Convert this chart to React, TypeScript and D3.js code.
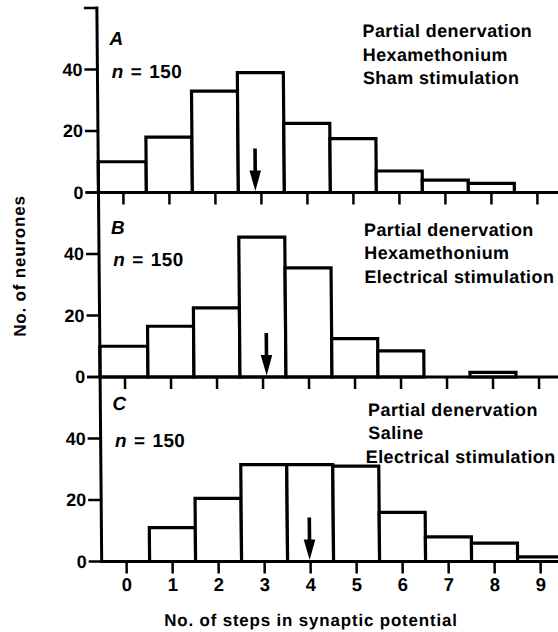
import React from 'react';
import * as d3 from 'd3';

// ---- data ----
const steps = [0, 1, 2, 3, 4, 5, 6, 7, 8, 9];
const countsA = [10, 18, 33, 39, 22.5, 17.5, 7, 4, 3, 0];
const countsB = [10, 16.5, 22.5, 45.5, 35.5, 12.5, 8.5, 0, 1.5, 0];
const countsC = [0, 11, 20.5, 31.5, 31.5, 31, 16, 8, 6, 1.5];
const meanSteps = [2.87, 3.08, 3.98];
const panelLetters = ['A', 'B', 'C'];
const sampleSizes = [150, 150, 150];
const conditionsA = ['Partial denervation', 'Hexamethonium', 'Sham stimulation'];
const conditionsB = ['Partial denervation', 'Hexamethonium', 'Electrical stimulation'];
const conditionsC = ['Partial denervation', 'Saline', 'Electrical stimulation'];
const yTicks = [0, 20, 40, 60];
const yTickLabels = ['0', '20', '40', ''];
const yLabel = 'No. of neurones';
const xLabel = 'No. of steps in synaptic potential';

// ---- layout ----
const W = 558;
const H = 632;
const axisX = 96.8;
const panelTop = 8;
const panelH = 184.5;
const yMax = 60;
const font = '"Liberation Sans", Arial, Helvetica, sans-serif';
const panelTextOffsets = [
  { letter: -147, n: -114.5, cond: -155, condX: [362.2, 362.2, 362.2] },
  { letter: -143, n: -110.5, cond: -141, condX: [362, 362, 362] },
  { letter: -151, n: -114, cond: -145.5, condX: [364.5, 364.5, 361.7] },
];

const panels = [
  { counts: countsA, cond: conditionsA },
  { counts: countsB, cond: conditionsB },
  { counts: countsC, cond: conditionsC },
];

export default function App() {
  const x = d3.scaleLinear().domain([0, 9]).range([121.7, 535.7]);
  const lineColor = '#000';

  return (
    <svg
      width={W}
      height={H}
      viewBox={`0 0 ${W} ${H}`}
      style={{ position: 'absolute', left: 0, top: 0, background: '#fff' }}
      fontFamily={font}
    >
      <rect x={0} y={0} width={W} height={H} fill="#fff" />
      <g transform="skewX(0.5)">
        {panels.map((p, i) => {
          const top = panelTop + i * panelH;
          const zero = top + panelH;
          const y = d3.scaleLinear().domain([0, yMax]).range([zero, top]);
          const off = panelTextOffsets[i];
          const mx = x(meanSteps[i]);
          return (
            <g key={i}>
              {/* bars */}
              {p.counts.map((v, j) =>
                v > 0 ? (
                  <rect
                    key={j}
                    x={j === 0 ? axisX : x(steps[j] - 0.5)}
                    y={y(v)}
                    width={x(steps[j] + 0.5) - (j === 0 ? axisX : x(steps[j] - 0.5))}
                    height={y(0) - y(v)}
                    fill="#fff"
                    stroke={lineColor}
                    strokeWidth={3.2}
                  />
                ) : null
              )}
              {/* baseline */}
              <line x1={axisX} x2={W + 10} y1={zero} y2={zero} stroke={lineColor} strokeWidth={3} />
              {/* x ticks hanging down */}
              {steps.map((s) => (
                <line key={s} x1={x(s)} x2={x(s)} y1={zero} y2={zero + 12} stroke={lineColor} strokeWidth={2.5} />
              ))}
              {/* y ticks */}
              {yTicks.map((t, k) => (
                <g key={k}>
                  <line x1={axisX - 13} x2={axisX} y1={y(t)} y2={y(t)} stroke={lineColor} strokeWidth={2.5} />
                  {yTickLabels[k] && (
                    <text
                      x={axisX - 15}
                      y={y(t)}
                      dy="0.36em"
                      textAnchor="end"
                      fontSize={18}
                      fontWeight="bold"
                    >
                      {yTickLabels[k]}
                    </text>
                  )}
                </g>
              ))}
              {/* mean arrow */}
              <path
                d={`M${mx - 1.8},${zero - 44} L${mx + 1.8},${zero - 44} L${mx + 1.8},${zero - 22} L${mx + 5.8},${zero - 22} L${mx},${zero - 1.5} L${mx - 5.8},${zero - 22} L${mx - 1.8},${zero - 22} Z`}
                fill={lineColor}
              />
              {/* letter and n */}
              <text x={109} y={zero + off.letter} fontSize={19} fontWeight="bold" fontStyle="italic">
                {panelLetters[i]}
              </text>
              <text x={111} y={zero + off.n} fontSize={19} fontWeight="bold" letterSpacing={0.4}>
                <tspan fontStyle="italic">n</tspan>
                <tspan dx={7}>=</tspan>
                <tspan dx={7}>{sampleSizes[i]}</tspan>
              </text>
              {/* conditions */}
              {p.cond.map((c, k) => (
                <text
                  key={k}
                  x={off.condX[k]}
                  y={zero + off.cond + k * 23.5}
                  fontSize={18}
                  fontWeight="bold"
                  letterSpacing={0.4}
                >
                  {c}
                </text>
              ))}
            </g>
          );
        })}
        {/* y axis */}
        <line
          x1={axisX}
          x2={axisX}
          y1={panelTop - 1.5}
          y2={panelTop + 3 * panelH + 1.5}
          stroke={lineColor}
          strokeWidth={3}
        />
        {/* x tick labels */}
        {steps.map((s) => (
          <text key={s} x={x(s)} y={591} textAnchor="middle" fontSize={18.5} fontWeight="bold">
            {s}
          </text>
        ))}
        {/* axis titles */}
        <text x={305.5} y={626} textAnchor="middle" fontSize={17} fontWeight="bold" letterSpacing={0.8}>
          {xLabel}
        </text>
        <text
          transform={`translate(16.7,266) rotate(-90)`}
          textAnchor="middle"
          dy="0.36em"
          fontSize={17}
          fontWeight="bold"
          letterSpacing={0.8}
        >
          {yLabel}
        </text>
      </g>
    </svg>
  );
}
